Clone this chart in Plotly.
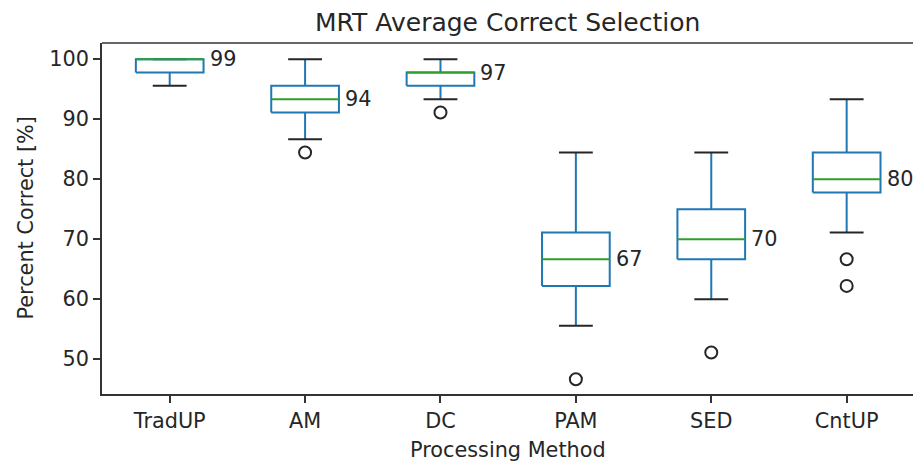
import plotly.graph_objects as go

# Per-method box statistics (percent correct)
categories = ["TradUP", "AM", "DC", "PAM", "SED", "CntUP"]
q1 = [97.78, 91.11, 95.56, 62.22, 66.67, 77.78]
medians = [100.0, 93.33, 97.78, 66.67, 70.0, 80.0]
q3 = [100.0, 95.56, 97.78, 71.11, 75.0, 84.44]
whisker_low = [95.56, 86.67, 93.33, 55.56, 60.0, 71.11]
whisker_high = [100.0, 100.0, 100.0, 84.44, 84.44, 93.33]
outliers = [[], [84.44], [91.11], [46.67], [51.11], [66.67, 62.22]]
mean_labels = [99, 94, 97, 67, 70, 80]

BOX_HALF = 0.25
CAP_HALF = 0.125
BLUE = "#1f77b4"
GREEN = "#2ca02c"
INK = "#262626"
FONT = "DejaVu Sans"

positions = list(range(1, len(categories) + 1))

box_x, box_y = [], []
wh_x, wh_y = [], []
cap_x, cap_y = [], []
med_x, med_y = [], []
fl_x, fl_y = [], []
for p, lo, a, m, b, hi, fl in zip(positions, whisker_low, q1, medians, q3, whisker_high, outliers):
    l, r = p - BOX_HALF, p + BOX_HALF
    box_x += [l, r, r, l, l, None]
    box_y += [a, a, b, b, a, None]
    wh_x += [p, p, None, p, p, None]
    wh_y += [a, lo, None, b, hi, None]
    cap_x += [p - CAP_HALF, p + CAP_HALF, None, p - CAP_HALF, p + CAP_HALF, None]
    cap_y += [lo, lo, None, hi, hi, None]
    med_x += [l, r, None]
    med_y += [m, m, None]
    fl_x += [p] * len(fl)
    fl_y += fl

fig = go.Figure()
fig.add_trace(go.Scatter(x=wh_x, y=wh_y, mode="lines", line=dict(color=BLUE, width=2), hoverinfo="skip"))
fig.add_trace(go.Scatter(x=cap_x, y=cap_y, mode="lines", line=dict(color=INK, width=2), hoverinfo="skip"))
fig.add_trace(go.Scatter(x=box_x, y=box_y, mode="lines", line=dict(color=BLUE, width=2), hoverinfo="skip"))
fig.add_trace(go.Scatter(x=med_x, y=med_y, mode="lines", line=dict(color=GREEN, width=2), hoverinfo="skip"))
fig.add_trace(go.Scatter(x=fl_x, y=fl_y, mode="markers",
                         marker=dict(symbol="circle-open", size=12, color=INK, line=dict(width=2, color=INK)),
                         hoverinfo="skip"))

# Mean value labels beside each box, at median height
for p, m, lab in zip(positions, medians, mean_labels):
    fig.add_annotation(x=p + BOX_HALF, y=m, text=str(lab), showarrow=False,
                       xanchor="left", yanchor="middle", xshift=4,
                       font=dict(family=FONT, size=20.8, color=INK))

# Title and axis labels
fig.add_annotation(x=0.5, y=1, xref="paper", yref="paper", yanchor="bottom", yshift=4,
                   text="MRT Average Correct Selection", showarrow=False,
                   font=dict(family=FONT, size=25, color=INK))
fig.add_annotation(x=0.5, y=0, xref="paper", yref="paper", yanchor="top", yshift=-42,
                   text="Processing Method", showarrow=False,
                   font=dict(family=FONT, size=20.8, color=INK))
fig.add_annotation(x=0, y=0.5, xref="paper", yref="paper", xanchor="center", xshift=-77,
                   text="Percent Correct [%]", textangle=-90, showarrow=False,
                   font=dict(family=FONT, size=20.8, color=INK))

# Top spine
fig.add_shape(type="line", xref="paper", yref="paper", x0=0, x1=1, y0=1, y1=1,
              line=dict(color="#333333", width=1.6))

fig.update_layout(
    width=913, height=461,
    margin=dict(l=102, r=0, t=43, b=67),
    paper_bgcolor="white", plot_bgcolor="white",
    showlegend=False,
    font=dict(family=FONT, size=20.8, color=INK),
)
fig.update_xaxes(range=[0.5, 6.49], tickvals=positions, ticktext=categories,
                 showgrid=False, zeroline=False, showline=True, linecolor="#333333", linewidth=1.6,
                 ticks="outside", ticklen=7, tickwidth=1.6, tickcolor="#333333",
                 tickfont=dict(family=FONT, size=20.8, color=INK))
fig.update_yaxes(range=[44.2, 102.7], tickvals=[50, 60, 70, 80, 90, 100],
                 showgrid=False, zeroline=False, showline=True, linecolor="#333333", linewidth=1.6,
                 ticks="outside", ticklen=7, tickwidth=1.6, tickcolor="#333333",
                 tickfont=dict(family=FONT, size=20.8, color=INK))

fig.write_html("out.html")
